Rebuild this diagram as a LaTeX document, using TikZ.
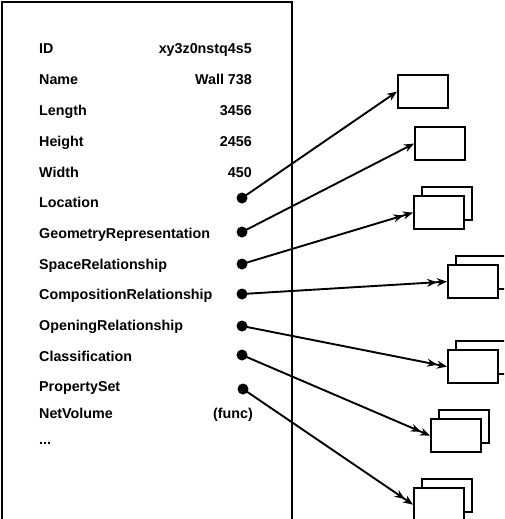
\documentclass[tikz,border=0pt]{standalone}
\usepackage{fontspec}
\setmainfont{Liberation Sans}
\usetikzlibrary{positioning, arrows.meta, shadows}

\begin{document}
\begin{tikzpicture}[x=1pt, y=-1pt,
    attr/.style={anchor=base west, inner sep=0pt, font=\bfseries\fontsize{14.3}{16}\selectfont},
    val/.style={anchor=base east, inner sep=0pt, font=\bfseries\fontsize{14.3}{16}\selectfont},
    pin/.style={circle, fill=black, inner sep=0pt, minimum size=11pt},
    box/.style={draw, line width=2.2pt, fill=white, minimum width=50pt, minimum height=33pt, inner sep=0pt, anchor=north west},
    stack/.style={box, copy shadow={shadow xshift=8pt, shadow yshift=9pt}},
    link/.style={line width=1.9pt, -{Stealth[length=10pt, width=8pt]}},
    multi/.style={line width=1.9pt, -{Stealth[length=10pt, width=8pt] Stealth[length=10pt, width=8pt]}}]
        \useasboundingbox (0,0) rectangle (504,519);
        \clip (0,0) rectangle (504,519);

        % the object
        \draw[line width=2.6pt] (2,530) -- (2,2) -- (292,2) -- (292,530);

        \node[attr] (id) at (39,54) {ID};
        \node[val] (idval) at (252,54) {xy3z0nstq4s5};
        \node[attr] (name) at (39,84.7) {Name};
        \node[val] (nameval) at (252,84.7) {Wall 738};
        \node[attr] (length) at (39,115.4) {Length};
        \node[val] (lengthval) at (252,115.4) {3456};
        \node[attr] (height) at (39,146) {Height};
        \node[val] (heightval) at (252,146) {2456};
        \node[attr] (width) at (39,177) {Width};
        \node[val] (widthval) at (252,177) {450};
        \node[attr] (location) at (39,207.5) {Location};
        \node[attr] (geometry) at (39,238) {GeometryRepresentation};
        \node[attr] (space) at (39,269) {SpaceRelationship};
        \node[attr] (composition) at (39,299.5) {CompositionRelationship};
        \node[attr] (opening) at (39,330) {OpeningRelationship};
        \node[attr] (classification) at (39,361) {Classification};
        \node[attr] (propset) at (39,391.5) {PropertySet};
        \node[attr] (netvolume) at (39,418) {NetVolume};
        \node[val] (netvolumeval) at (253,418) {(func)};
        \node[attr] (more) at (39,444) {...};

        % references
        \node[pin] (locationpin) at (242,198) {};
        \node[pin] (geometrypin) at (242,232) {};
        \node[pin] (spacepin) at (242,264) {};
        \node[pin] (compositionpin) at (242,294) {};
        \node[pin] (openingpin) at (242,326) {};
        \node[pin] (classificationpin) at (242,355) {};
        \node[pin] (propsetpin) at (243,389) {};

        % referenced objects
        \node[box] (b1) at (397,74) {};
        \node[box] (b2) at (414,126) {};
        \node[stack] (b3) at (413,195) {};
        \node[stack] (b4) at (447,264) {};
        \node[stack] (b5) at (447,349) {};
        \node[stack] (b6) at (430,418) {};
        \node[stack] (b7) at (413,487) {};

        \draw[link] (locationpin.center) -- (b1.west);
        \draw[link] (geometrypin.center) -- (b2.west);
        \draw[multi] (spacepin.center) -- (b3.west);
        \draw[multi] (compositionpin.center) -- (b4.west);
        \draw[multi] (openingpin.center) -- (b5.west);
        \draw[multi] (classificationpin.center) -- (b6.west);
        \draw[multi] (propsetpin.center) -- (b7.west);
      \end{tikzpicture}
\end{document}
